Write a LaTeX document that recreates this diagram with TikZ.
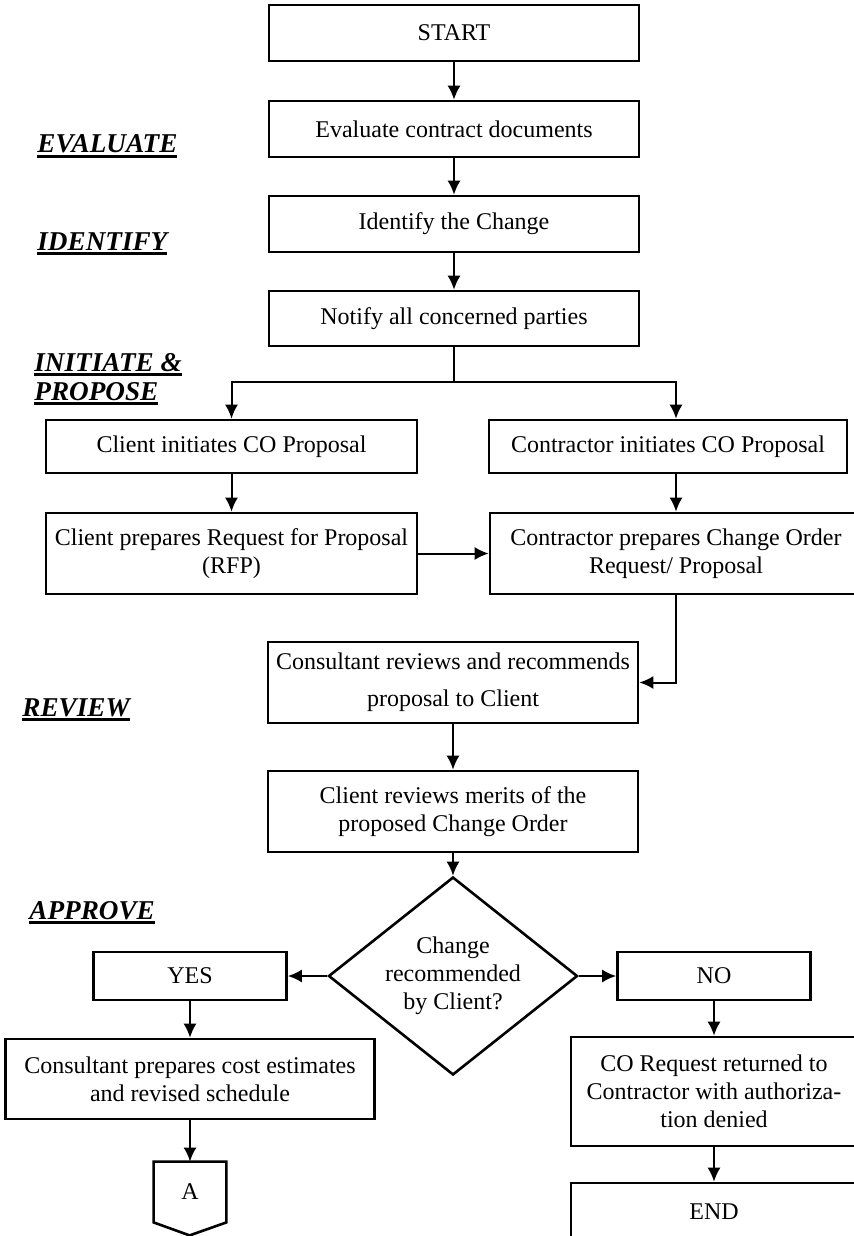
\documentclass[tikz,border=0pt]{standalone}
\usepackage{fontspec}
\setmainfont{Liberation Serif}
\usetikzlibrary{arrows.meta,shapes.geometric}
\newcommand{\stageul}[1]{\sbox0{#1}\rlap{\usebox0}\rule[-2.5pt]{\wd0}{1.6pt}}

\begin{document}
\begin{tikzpicture}[x=0.5pt,y=-0.5pt,
  box/.style={draw, line width=1.3pt, align=center, inner sep=2pt, font=\fontsize{12}{14}\selectfont},
  stage/.style={anchor=base west, inner sep=0pt, font=\fontsize{13.6}{15}\selectfont\bfseries\itshape},
  arr/.style={line width=1pt, -{Latex[length=7pt,width=6.5pt]}},
  lin/.style={line width=1pt}]
\useasboundingbox (0,0) rectangle (854,1236);
\node[stage] (lbleval) at (37,153){\stageul{EVALUATE}};
\node[stage] (lblident) at (37,250){\stageul{IDENTIFY}};
\node[stage] (lblinit) at (34,371){\stageul{INITIATE \&}};
\node[stage] (lblprop) at (34,400){\stageul{PROPOSE}};
\node[stage] (lblrev) at (22,716){\stageul{REVIEW}};
\node[stage] (lblappr) at (29,919){\stageul{APPROVE}};
\node[box, minimum width=185pt, minimum height=28pt] (start) at (454,33){START};
\node[box, minimum width=185pt, minimum height=28pt] (evaluate) at (454,129){Evaluate contract documents};
\draw[arr](start) -- (evaluate);
\node[box, minimum width=185pt, minimum height=28pt] (identify) at (454,224){Identify the Change};
\draw[arr](evaluate) -- (identify);
\node[box, minimum width=185pt, minimum height=27.5pt] (notify) at (454,318.5){Notify all concerned parties};
\draw[arr](identify) -- (notify);
\coordinate (junc) at (454,382);
\coordinate (rcol) at (676,382);
\node[box, minimum width=185.5pt, minimum height=26.5pt] (clinit) at (231.5,446.5){Client initiates CO Proposal};
\node[box, minimum width=179pt, minimum height=26.5pt] (coinit) at (668,446.5){Contractor initiates CO Proposal};
\draw[lin](notify) -- (junc);
\draw[arr](junc) -| (clinit);
\draw[arr](junc) -| (rcol |- coinit.north);
\node[box, minimum width=185.5pt, minimum height=40.5pt] (clprep) at (231.5,553.5){Client prepares Request for Proposal\\(RFP)};
\node[box, minimum width=186pt, minimum height=40.5pt] (coprep) at (676,553.5){Contractor prepares Change Order\\Request/ Proposal};
\draw[arr](clinit) -- (clprep);
\draw[arr](coinit.south -| coprep) -- (coprep);
\draw[arr](clprep) -- (coprep);
\node[box, minimum width=185pt, minimum height=40.5pt, font=\fontsize{12}{18.5}\selectfont] (consrev) at (453,682.5){Consultant reviews and recommends\\proposal to Client};
\draw[arr](coprep) |- (consrev);
\node[box, minimum width=185pt, minimum height=40.5pt] (clrev) at (453,811.5){Client reviews merits of the\\proposed Change Order};
\draw[arr](consrev) -- (clrev);
\node[box, diamond, aspect=1.26, inner sep=0pt, minimum width=124.5pt, minimum height=99pt] (decide) at (453,976){Change\\recommended\\by Client?};
\draw[arr](clrev) -- (decide);
\node[box, minimum width=96.5pt, minimum height=24pt] (yes) at (190,976){YES};
\node[box, minimum width=96.5pt, minimum height=24pt] (no) at (714,976){NO};
\draw[arr](decide) -- (yes);
\draw[arr](decide) -- (no);
\node[box, minimum width=184.5pt, minimum height=40pt] (cpest) at (190,1079){Consultant prepares cost estimates\\and revised schedule};
\draw[arr](yes) -- (cpest);
\node[inner sep=0pt, minimum width=36pt, minimum height=30pt, font=\fontsize{12}{14}\selectfont] (conA) at (190,1192){A};
\draw[line width=1.3pt](conA.south east) -- (conA.north east) -- (conA.north west) -- (conA.south west) -- ++(36,13) -- cycle;
\draw[arr](cpest) -- (conA);
\node[box, minimum width=143pt, minimum height=54.5pt] (coreq) at (714,1091.5){CO Request returned to\\Contractor with authoriza-\\tion denied};
\draw[arr](no) -- (coreq);
\node[box, minimum width=143pt, minimum height=28.5pt] (stop) at (714,1211.5){END};
\draw[arr](coreq) -- (stop);
\end{tikzpicture}
\end{document}
